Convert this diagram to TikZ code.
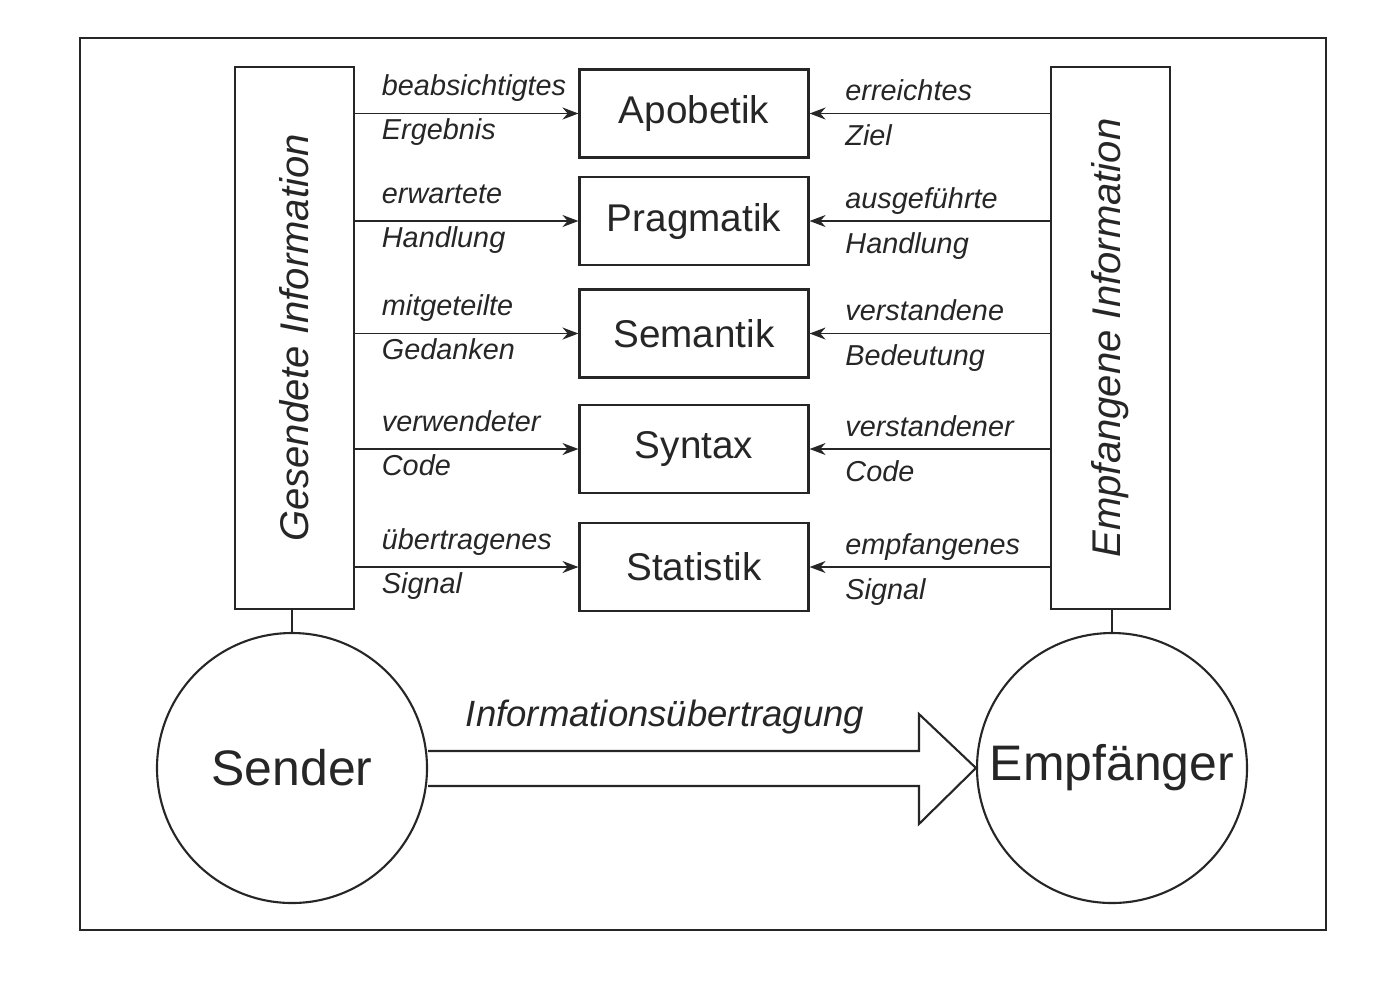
\documentclass[tikz,border=0pt]{standalone}
\usepackage{fontspec}
\setmainfont{Liberation Sans}
\usepackage{tikz}
\usetikzlibrary{arrows.meta,positioning,calc}
\definecolor{scanink}{HTML}{262626}

\begin{document}
\begin{tikzpicture}[
  x=0.1mm, y=-0.1mm,
  color=scanink, line width=0.6pt,
  layer/.style={draw, minimum width=22.9mm, minimum height=8.8mm,
    font=\fontsize{11}{13}\selectfont},
  side/.style={draw, minimum width=11.9mm, minimum height=54.2mm},
  sidetext/.style={rotate=90, font=\fontsize{11.4}{13}\selectfont\itshape},
  party/.style={draw, circle, minimum size=27mm, inner sep=0pt,
    font=\fontsize{14.2}{16}\selectfont},
  fwd/.style={-{Stealth[length=1.6mm, width=1.2mm]}, line width=0.5pt},
  note/.style={font=\fontsize{8.2}{10}\selectfont\itshape, anchor=base west, inner sep=0pt},
  lup/.style={note, pos=0, xshift=2.6mm, yshift=1.8mm},
  ldown/.style={note, pos=0, xshift=2.6mm, yshift=-2.6mm},
  rup/.style={note, pos=1, xshift=3.5mm, yshift=1.3mm},
  rdown/.style={note, pos=1, xshift=3.5mm, yshift=-3.2mm},
  flow/.style={font=\fontsize{10.4}{12}\selectfont\itshape}
]
  \useasboundingbox (0,0) rectangle (1382,1000);
  \draw (80,38) rectangle (1326,930);

  % sender and receiver side
  \node[side] (snd) at (294.5,338) {};
  \node[sidetext] at (snd) {Gesendete Information};
  \node[side] (rcv) at (1110.5,338) {};
  \node[sidetext] at (rcv) {Empfangene Information};

  % the five levels
  \node[layer] (apo) at (694,113.5) {Apobetik};
  \node[layer] (prag) at (694,221) {Pragmatik};
  \node[layer] (sem) at (694,333.5) {Semantik};
  \node[layer] (syn) at (694,449) {Syntax};
  \node[layer] (stat) at (694,567) {Statistik};

  \draw[fwd] (snd.east |- apo.west) -- node[lup]{beabsichtigtes} node[ldown]{Ergebnis} (apo.west);
  \draw[fwd] (snd.east |- prag.west) -- node[lup]{erwartete} node[ldown]{Handlung} (prag.west);
  \draw[fwd] (snd.east |- sem.west) -- node[lup]{mitgeteilte} node[ldown]{Gedanken} (sem.west);
  \draw[fwd] (snd.east |- syn.west) -- node[lup]{verwendeter} node[ldown]{Code} (syn.west);
  \draw[fwd] (snd.east |- stat.west) -- node[lup]{übertragenes} node[ldown]{Signal} (stat.west);

  \draw[fwd] (rcv.west |- apo.east) -- node[rup]{erreichtes} node[rdown]{Ziel} (apo.east);
  \draw[fwd] (rcv.west |- prag.east) -- node[rup]{ausgeführte} node[rdown]{Handlung} (prag.east);
  \draw[fwd] (rcv.west |- sem.east) -- node[rup]{verstandene} node[rdown]{Bedeutung} (sem.east);
  \draw[fwd] (rcv.west |- syn.east) -- node[rup]{verstandener} node[rdown]{Code} (syn.east);
  \draw[fwd] (rcv.west |- stat.east) -- node[rup]{empfangenes} node[rdown]{Signal} (stat.east);

  % parties
  \node[party] (sender) at (292,768) {Sender};
  \node[party] (empf) at (1112,768) {Empfänger};
  \draw (sender.north |- snd.south) -- (sender.north);
  \draw (empf.north |- rcv.south) -- (empf.north);

  % hollow transfer arrow
  \draw ($(sender.east)+(0,-17)$) -- ($(empf.west)+(-57,-17)$) -- ($(empf.west)+(-57,-54)$)
    -- (empf.west) -- ($(empf.west)+(-57,56)$) -- ($(empf.west)+(-57,18)$) -- ($(sender.east)+(0,18)$);
  \node[flow] (trans) at (665,717) {Informationsübertragung};
\end{tikzpicture}
\end{document}
